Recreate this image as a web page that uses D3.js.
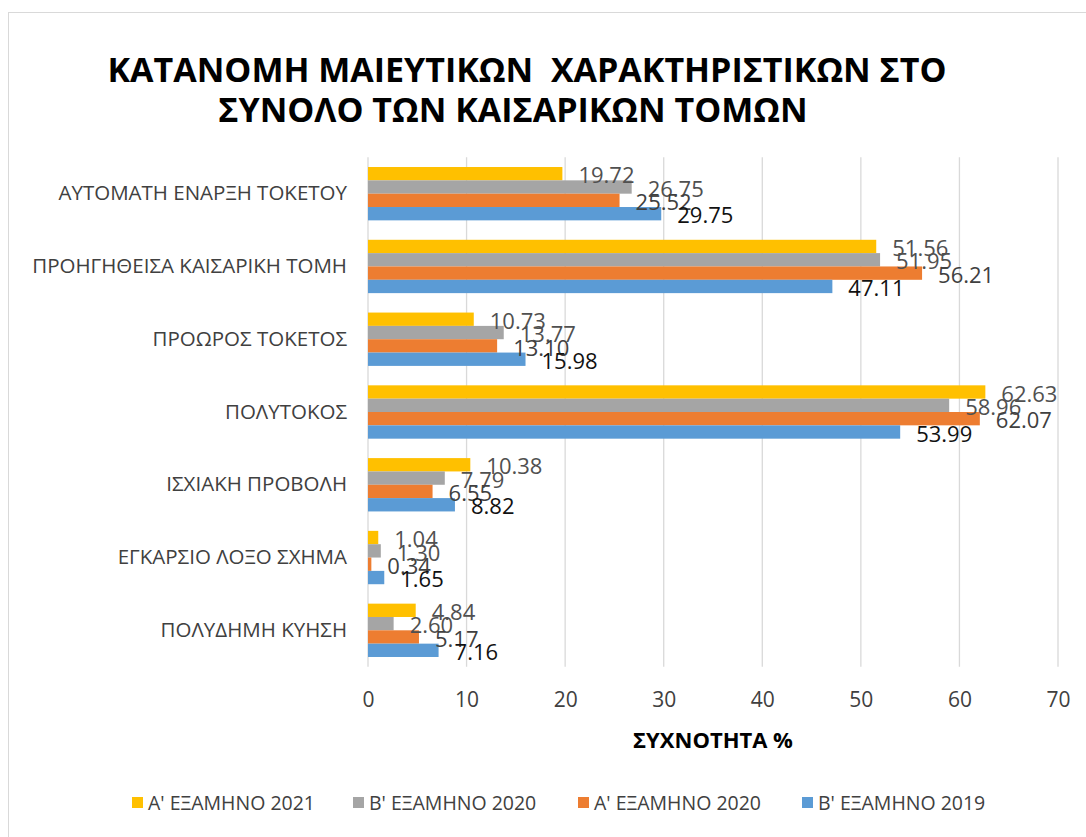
<!DOCTYPE html>
<html>
<head>
<meta charset="utf-8">
<script src="https://cdn.jsdelivr.net/npm/d3@7"></script>
<style>
  body { margin: 0; background: #fff; }
  text { font-family: 'Open Sans', sans-serif; }
</style>
</head>
<body>
<svg id="chart" width="1086" height="837"></svg>
<script>
const categories = [
  'ΑΥΤΟΜΑΤΗ ΕΝΑΡΞΗ ΤΟΚΕΤΟΥ',
  'ΠΡΟΗΓΗΘΕΙΣΑ ΚΑΙΣΑΡΙΚΗ ΤΟΜΗ',
  'ΠΡΟΩΡΟΣ ΤΟΚΕΤΟΣ',
  'ΠΟΛΥΤΟΚΟΣ',
  'ΙΣΧΙΑΚΗ ΠΡΟΒΟΛΗ',
  'ΕΓΚΑΡΣΙΟ ΛΟΞΟ ΣΧΗΜΑ',
  'ΠΟΛΥΔΗΜΗ ΚΥΗΣΗ'
]
const seriesNames = ["Α' ΕΞΑΜΗΝΟ 2021", "Β' ΕΞΑΜΗΝΟ 2020", "Α' ΕΞΑΜΗΝΟ 2020", "Β' ΕΞΑΜΗΝΟ 2019"]
const a2021 = [19.72, 51.56, 10.73, 62.63, 10.38, 1.04, 4.84]
const b2020 = [26.75, 51.95, 13.77, 58.96, 7.79, 1.30, 2.60]
const a2020 = [25.52, 56.21, 13.10, 62.07, 6.55, 0.34, 5.17]
const b2019 = [29.75, 47.11, 15.98, 53.99, 8.82, 1.65, 7.16]
const xTicks = [0, 10, 20, 30, 40, 50, 60, 70]

const seriesValues = [a2021, b2020, a2020, b2019]
const colors = ['#ffc000', '#a5a5a5', '#ed7d31', '#5b9bd5']
const labelColors = ['#505050', '#505050', '#404040', '#111']

const svg = d3.select('#chart')

// cadre du graphique
svg.append('rect')
  .attr('x', 8.5).attr('y', 12.5)
  .attr('width', 1200).attr('height', 1000)
  .attr('fill', '#fff').attr('stroke', '#d9d9d9')

// titre
svg.append('text')
  .attr('x', 527).attr('y', 82)
  .attr('text-anchor', 'middle')
  .attr('xml:space', 'preserve')
  .style('font-size', '34px').style('font-weight', 'bold')
  .attr('fill', '#000')
  .text('ΚΑΤΑΝΟΜΗ ΜΑΙΕΥΤΙΚΩΝ  ΧΑΡΑΚΤΗΡΙΣΤΙΚΩΝ ΣΤΟ')
svg.append('text')
  .attr('x', 513).attr('y', 122)
  .attr('text-anchor', 'middle')
  .style('font-size', '34px').style('font-weight', 'bold')
  .attr('fill', '#000')
  .text('ΣΥΝΟΛΟ ΤΩΝ ΚΑΙΣΑΡΙΚΩΝ ΤΟΜΩΝ')

const plotTop = 157.3
const plotBottom = 666.7

const xScale = d3.scaleLinear().domain([0, 70]).range([368, 1058])
const yScale = d3.scaleBand().domain(categories).range([plotTop, plotBottom])
  .paddingInner(0.267).paddingOuter(0.1335)
const subScale = d3.scaleBand().domain(d3.range(seriesValues.length))
  .range([0, yScale.bandwidth()])

// grille verticale
svg.append('g')
  .selectAll('line')
  .data(xTicks)
  .join('line')
  .attr('x1', d => xScale(d)).attr('x2', d => xScale(d))
  .attr('y1', plotTop).attr('y2', plotBottom)
  .attr('stroke', '#d9d9d9').attr('stroke-width', 1.3)

// axe X (libellés seulement)
const xAxis = svg.append('g')
  .attr('transform', `translate(0,${plotBottom + 25})`)
  .call(d3.axisBottom(xScale).tickValues(xTicks).tickSize(0).tickPadding(0))
xAxis.select('.domain').remove()
xAxis.selectAll('text')
  .attr('dy', '0.71em')
  .style('font-size', '21px')
  .style('font-family', "'Open Sans', sans-serif")
  .attr('fill', '#404040')

// axe Y (catégories)
const yAxis = svg.append('g')
  .attr('transform', 'translate(347,0)')
  .call(d3.axisLeft(yScale).tickSize(0).tickPadding(0))
yAxis.select('.domain').remove()
yAxis.selectAll('text')
  .style('font-size', '20.5px')
  .style('font-family', "'Open Sans', sans-serif")
  .attr('fill', '#404040')

// barres
const groups = svg.append('g')
  .selectAll('g')
  .data(seriesValues)
  .join('g')
  .attr('fill', (d, i) => colors[i])

groups.selectAll('rect')
  .data((vals, si) => vals.map((v, ci) => ({ v, ci, si })))
  .join('rect')
  .attr('x', xScale(0))
  .attr('y', d => yScale(categories[d.ci]) + subScale(d.si))
  .attr('width', d => xScale(d.v) - xScale(0))
  .attr('height', subScale.bandwidth())

// étiquettes de données
const labels = svg.append('g')
seriesValues.forEach((vals, si) => {
  labels.selectAll('.lab' + si)
    .data(vals)
    .join('text')
    .attr('class', 'lab' + si)
    .attr('x', (d) => xScale(d) + 16)
    .attr('y', (d, ci) => yScale(categories[ci]) + subScale(si) + subScale.bandwidth() / 2 + 2)
    .attr('dy', '0.35em')
    .style('font-size', '22px')
    .attr('fill', labelColors[si])
    .text(d => d.toFixed(2))
})

// titre de l'axe X
svg.append('text')
  .attr('x', 713).attr('y', 748)
  .attr('text-anchor', 'middle')
  .style('font-size', '22px').style('font-weight', 'bold')
  .attr('fill', '#000')
  .text('ΣΥΧΝΟΤΗΤΑ %')

// légende
const legendX = [132, 353, 578, 802]
const legend = svg.append('g')
  .selectAll('g')
  .data(seriesNames)
  .join('g')
  .attr('transform', (d, i) => `translate(${legendX[i]},803)`)
legend.append('rect')
  .attr('x', 0).attr('y', -6)
  .attr('width', 11).attr('height', 11)
  .attr('fill', (d, i) => colors[i])
legend.append('text')
  .attr('x', 16).attr('y', 0)
  .attr('dy', '0.35em')
  .style('font-size', '19.5px')
  .attr('fill', '#404040')
  .text(d => d)
</script>
</body>
</html>
